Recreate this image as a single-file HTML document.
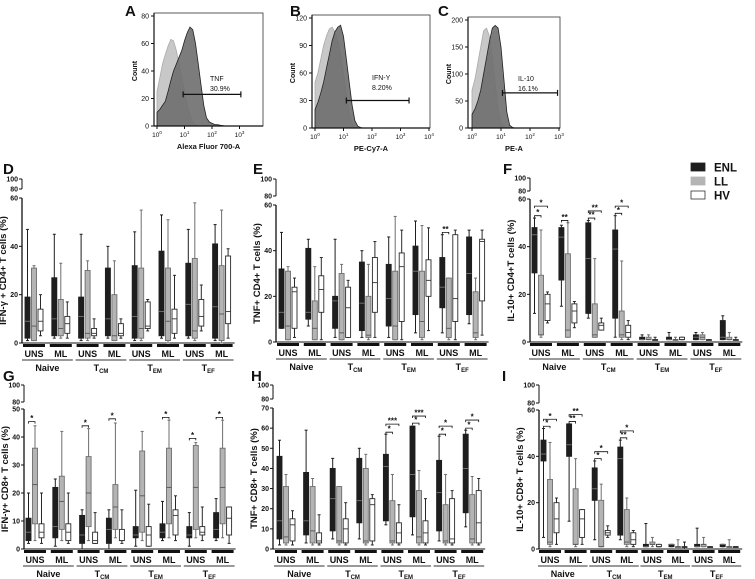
<!DOCTYPE html>
<html><head><meta charset="utf-8"><style>
html,body{margin:0;padding:0;background:#fff;}
svg{display:block;font-family:"Liberation Sans",Arial,sans-serif;}
</style></head><body>
<svg id="fig" width="755" height="579" viewBox="0 0 755 579" xmlns="http://www.w3.org/2000/svg"></svg>
<script>
// ---------- DATA ----------
const categories = ["UNS","ML","UNS","ML","UNS","ML","UNS","ML"];
const subsets = ["Naive","T_CM","T_EM","T_EF"];
const seriesNames = ["ENL","LL","HV"];
// each box: [min,q1,median,q3,max]
const dEnl=[[1,2,9,19,47],[2,3,10,27,45],[1,2,11,19,45],[2,3,10,31,40],[1,2,11,32,46],[2,3,13,38,53],[2,3,16,33,47],[1,2,15,41,49]];
const dLl =[[1,1,7,31,32],[2,3,6,18,33],[1,2,4,30,34],[1,1,3,20,34],[1,2,6,31,55],[0,1,9,31,51],[1,2,5,35,58],[0,1,12,32,55]];
const dHv =[[3,5,9,14,20],[2,4,8,11,17],[2,3,4,6,10],[2,3,4,8,10],[5,6,7,17,18],[2,4,10,14,28],[5,7,11,18,24],[2,8,13,36,39]];
const eEnl=[[6,6,13,32,48],[7,10,13,41,45],[2,6,18,20,45],[2,5,17,35,40],[2,7,19,34,46],[4,12,31,42,53],[4,15,24,37,47],[8,12,30,46,49]];
const eLl =[[1,1,7,31,33],[1,1,6,18,33],[1,1,4,30,34],[1,2,3,20,34],[1,1,7,31,55],[1,2,9,31,51],[1,2,6,28,28],[1,2,4,22,28]];
const eHv =[[2,6,22,24,28],[1,13,23,29,37],[2,2,15,24,27],[2,13,26,37,44],[1,9,33,39,49],[5,20,27,36,50],[1,9,19,47,49],[3,18,44,45,49]];
const fEnl=[[12,29,45,48,52],[15,26,44,48,49],[10,12,35,50,51],[2,10,39,47,53],[1,1,1,2,3],[1,1,1,2,4],[1,1,2,3,4],[1,1,2,9,11]];
const fLl =[[2,3,3,28,47],[2,2,5,37,50],[2,2,3,16,35],[1,2,3,13,34],[1,1,1,2,3],[1,1,1,1,2],[1,1,2,3,4],[1,1,1,2,4]];
const fHv =[[8,9,16,20,21],[6,8,13,16,17],[5,5,7,8,10],[1,2,4,7,9],[1,1,1,1,2],[1,1,1,2,2],[1,1,1,1,1],[1,1,1,1,2]];
const gEnl=[[2,3,6,11,20],[1,4,8,22,25],[0,2,5,12,14],[0,2,7,11,14],[1,4,5,8,21],[3,4,6,9,17],[1,4,5,8,13],[3,4,7,13,18]];
const gLl =[[3,9,23,36,44],[3,7,17,26,42],[3,8,20,33,43],[4,7,15,23,45],[3,6,19,35,42],[4,9,22,36,46],[4,7,22,37,38],[4,9,22,36,46]];
const gHv =[[2,4,6,9,20],[2,3,6,9,20],[2,2,3,6,13],[2,3,3,7,14],[1,1,5,8,16],[3,5,12,14,19],[3,5,6,8,15],[2,5,11,15,15]];
const hEnl=[[2,5,14,46,54],[3,7,14,38,59],[5,9,25,40,45],[5,13,24,45,50],[12,14,41,47,57],[7,16,37,61,61],[4,9,28,44,56],[11,18,40,57,59]];
const hLl =[[2,3,6,31,37],[2,3,9,31,35],[2,3,4,31,31],[2,3,4,40,47],[2,3,4,24,37],[2,3,6,29,39],[2,3,4,22,37],[2,3,5,27,36]];
const hHv =[[2,4,12,15,19],[2,3,4,8,17],[2,3,10,15,23],[2,4,22,25,27],[2,3,8,13,22],[2,3,8,14,25],[2,3,5,25,29],[2,3,13,29,35]];
const iEnl=[[5,38,41,47,52],[12,40,45,54,54],[4,21,26,35,38],[4,6,39,44,47],[1,1,1,2,11],[1,1,2,2,2],[1,1,1,2,9],[1,1,2,2,2]];
const iLl =[[1,2,3,30,46],[1,2,2,26,39],[1,1,1,21,28],[1,2,3,17,22],[1,2,2,3,5],[1,1,1,1,4],[1,1,2,2,5],[1,1,1,1,4]];
const iHv =[[2,7,13,20,22],[2,5,13,17,17],[5,6,7,8,10],[1,2,4,7,8],[1,1,1,2,2],[0,1,1,1,3],[1,1,1,1,1],[1,1,1,1,1]];
// significance: [group, fromSeries, toSeries, label, level]
const eSig=[[6,0,1,"**",48]];
const fSig=[[0,0,1,"*",53],[0,0,2,"*",57],[1,0,1,"**",51],[2,0,1,"**",52],[2,0,2,"**",55],[3,0,1,"*",54],[3,0,2,"*",57]];
const gSig=[[0,0,1,"*",45.5],[2,0,1,"*",44],[3,0,1,"*",46.5],[5,0,1,"*",47],[6,0,1,"*",39.5],[7,0,1,"*",47]];
const hSig=[[4,0,1,"*",58],[4,0,2,"***",62],[5,0,1,"*",62.5],[5,0,2,"***",66],[6,0,1,"*",57],[6,0,2,"*",61],[7,0,1,"*",60],[7,0,2,"*",64]];
const iSig=[[0,0,1,"*",53],[0,0,2,"*",56],[1,0,1,"**",55],[1,0,2,"**",58],[2,0,1,"*",39],[2,0,2,"*",42],[3,0,1,"**",48],[3,0,2,"*",51]];
// flow histograms: counts per 0.1 log-decade bin starting at 10^0
const aIso=[25,35,45,52,58,63,62,55,45,35,25,15,8,3,1,0];
const aStain=[10,12,15,18,25,33,40,45,50,55,62,68,72,70,60,45,30,15,6,3,2,1,1,0.5,0.3,0];
const bIso=[50,60,75,90,100,108,110,105,95,80,60,35,15,5,1,0];
const bStain=[20,28,38,50,65,80,95,105,110,112,100,75,50,25,8,2,0.5,0];
const cIso=[70,90,120,150,180,185,170,130,80,35,10,2,0];
const cStain=[25,35,50,70,100,130,160,185,190,185,150,90,30,5,1,0];

// ---------- DRAW ----------
const NS="http://www.w3.org/2000/svg";
const svg=document.getElementById("fig");
function mk(tag,attrs,parent){const e=document.createElementNS(NS,tag);for(const k in attrs)e.setAttribute(k,attrs[k]);(parent||svg).appendChild(e);return e;}
function txt(x,y,s,size,anchor,weight,parent){const t=mk("text",{x:x,y:y,"font-size":size,"text-anchor":anchor||"middle","font-weight":weight||"bold",fill:"#111"},parent);t.textContent=s;return t;}
function subLabel(x,y,name,parent){
  const t=mk("text",{x:x,y:y,"font-size":9,"text-anchor":"middle","font-weight":"bold",fill:"#111"},parent);
  if(name.indexOf("_")>0){const p=name.split("_");t.appendChild(document.createTextNode(p[0]));const s=mk("tspan",{"font-size":6,dy:2},t);s.textContent=p[1];}
  else t.textContent=name;
  return t;
}
const fills=["#1e1e1e","#b4b4b4","#ffffff"];
const strokes=["#1e1e1e","#6e6e6e","#2a2a2a"];
const medCol=["#777","#555","#333"];

function boxPanel(cfg){
  const g=mk("g",{});
  
  
  const ys=v=>cfg.y0-(v/cfg.ymax)*(cfg.y0-cfg.yTop);
  const gx=i=>cfg.gx0+i*cfg.gdx;
  const off=[0,6.5,13], bw=5;
  const L=txt(cfg.lx,cfg.ly,cfg.letter,15,"start","bold",g);
  
  
  mk("line",{x1:cfg.ax,y1:cfg.y100,x2:cfg.ax,y2:cfg.y80,stroke:"#111","stroke-width":1},g);
  mk("line",{x1:cfg.ax,y1:cfg.yTop,x2:cfg.ax,y2:cfg.y0,stroke:"#111","stroke-width":1.3},g);
  [[100,cfg.y100],[80,cfg.y80]].forEach(p=>{mk("line",{x1:cfg.ax-3,y1:p[1],x2:cfg.ax,y2:p[1],stroke:"#111"},g);txt(cfg.ax-4,p[1]+2.5,String(p[0]),7,"end","bold",g);});
  cfg.ticks.forEach(v=>{const y=ys(v);mk("line",{x1:cfg.ax-3,y1:y,x2:cfg.ax,y2:y,stroke:"#111"},g);txt(cfg.ax-4,y+2.5,String(v),7,"end","bold",g);});
  const yt=txt(0,0,cfg.ytitle,9.5,"middle","bold",g);
  yt.setAttribute("transform",`translate(${cfg.ax-16},${(cfg.yTop+cfg.y0)/2}) rotate(-90)`);
  
  
  mk("line",{x1:cfg.ax,y1:cfg.y0,x2:gx(7)+22,y2:cfg.y0,stroke:"#111","stroke-width":1},g);
  const series=[cfg.enl,cfg.ll,cfg.hv];
  for(let i=0;i<8;i++){
    const x0=gx(i);
    mk("rect",{x:x0-2,y:cfg.y0+1,width:bw+off[2]+4,height:3,fill:"#111"},g);
    const cl=txt(x0+9,cfg.y0+14,categories[i],9,"middle","bold",g);
    
    
    for(let s=0;s<3;s++){
      const d=series[s][i];const x=x0+off[s];const cx=x+bw/2;
      const b=mk("g",{},g);
      
      
      mk("line",{x1:cx,y1:ys(d[0]),x2:cx,y2:ys(d[4]),stroke:strokes[s],"stroke-width":1},b);
      mk("line",{x1:cx-1.5,y1:ys(d[4]),x2:cx+1.5,y2:ys(d[4]),stroke:strokes[s],"stroke-width":1},b);
      mk("line",{x1:cx-1.5,y1:ys(d[0]),x2:cx+1.5,y2:ys(d[0]),stroke:strokes[s],"stroke-width":1},b);
      mk("rect",{x:x,y:ys(d[3]),width:bw,height:Math.max(0.8,ys(d[1])-ys(d[3])),fill:fills[s],stroke:strokes[s],"stroke-width":0.9},b);
      mk("line",{x1:x,y1:ys(d[2]),x2:x+bw,y2:ys(d[2]),stroke:medCol[s],"stroke-width":0.9},b);
    }
  }
  for(let k=0;k<4;k++){
    const xa=gx(2*k)-3, xb=gx(2*k+1)+off[2]+bw+3;
    mk("line",{x1:xa,y1:cfg.y0+17,x2:xb,y2:cfg.y0+17,stroke:"#333","stroke-width":1},g);
    const sl=subLabel((xa+xb)/2,cfg.y0+28,subsets[k],g);
    
    
  }
  (cfg.sig||[]).forEach(sg=>{
    const x0=gx(sg[0]);const xa=x0+off[sg[1]]+bw/2, xb=x0+off[sg[2]]+bw/2, y=ys(sg[4]);
    const p=mk("path",{d:`M${xa},${y+2}V${y}H${xb}V${y+2}`,fill:"none",stroke:"#111","stroke-width":0.8},g);
    
    
    txt((xa+xb)/2,y-0.5,sg[3],8,"middle","bold",g);
  });
}
boxPanel({name:"panel-d",letter:"D",lx:3,ly:174,ax:22,y100:179,y80:189,yTop:198,y0:343,ymax:60,ticks:[0,20,40,60],gx0:25,gdx:26.8,ytitle:"IFN-γ + CD4+ T cells (%)",enl:dEnl,ll:dLl,hv:dHv});
boxPanel({name:"panel-e",letter:"E",lx:253,ly:174,ax:276,y100:179,y80:196,yTop:205,y0:342,ymax:60,ticks:[0,20,40,60],gx0:279,gdx:26.8,ytitle:"TNF+ CD4+ T cells (%)",enl:eEnl,ll:eLl,hv:eHv,sig:eSig});
boxPanel({name:"panel-f",letter:"F",lx:503,ly:174,ax:530,y100:178,y80:191,yTop:199,y0:342,ymax:60,ticks:[0,20,40,60],gx0:532,gdx:26.9,ytitle:"IL-10+ CD4+T cells (%)",enl:fEnl,ll:fLl,hv:fHv,sig:fSig});
boxPanel({name:"panel-g",letter:"G",lx:3,ly:381,ax:24,y100:385,y80:402,yTop:409,y0:549,ymax:50,ticks:[0,10,20,30,40,50],gx0:26,gdx:26.8,ytitle:"IFN-γ+ CD8+ T cells (%)",enl:gEnl,ll:gLl,hv:gHv,sig:gSig});
boxPanel({name:"panel-h",letter:"H",lx:251,ly:381,ax:273,y100:385,y80:399,yTop:408,y0:549,ymax:70,ticks:[0,10,20,30,40,50,60,70],gx0:277,gdx:26.6,ytitle:"TNF+ CD8+ T cells (%)",enl:hEnl,ll:hLl,hv:hHv,sig:hSig});
boxPanel({name:"panel-i",letter:"I",lx:502,ly:381,ax:539,y100:385,y80:403,yTop:410,y0:549,ymax:60,ticks:[0,20,40,60],gx0:541,gdx:25.6,ytitle:"IL-10+ CD8+ T cells (%)",enl:iEnl,ll:iLl,hv:iHv,sig:iSig});

// legend
const leg=mk("g",{});


seriesNames.forEach((n,i)=>{
  const y=163+i*14;
  const r=mk("rect",{x:691,y:y,width:14,height:8,fill:fills[i],stroke:i==2?"#333":fills[i],"stroke-width":0.8},leg);
  
  
  const t=txt(714,y+8.5,n,11.5,"start","bold",leg);
  
  
});

// flow histograms
function flow(cfg){
  const g=mk("g",{});
  
  
  const L=txt(cfg.lx,16,cfg.letter,15,"start","bold",g);
  
  
  const xs=l=>cfg.x0+l*cfg.dec;
  const ys=v=>cfg.yb-(v/cfg.ymax)*(cfg.yb-cfg.yt);
  function area(arr,fill,stroke,nm){
    let d=`M${xs(0)},${cfg.yb}`;
    arr.forEach((v,i)=>{d+=`L${xs(i*0.1).toFixed(1)},${ys(v).toFixed(1)}`;});
    d+=`L${xs((arr.length-1)*0.1)},${cfg.yb}Z`;
    const p=mk("path",{d:d,fill:fill,stroke:stroke,"stroke-width":0.8},g);
    
    
  }
  area(cfg.iso,"#c8c8c8","#aaa","isotype-histogram");
  area(cfg.stain,"rgba(110,110,110,0.9)","#222","stained-histogram");
  mk("rect",{x:cfg.ax,y:cfg.yt-3,width:cfg.right-cfg.ax,height:cfg.yb-cfg.yt+3,fill:"none",stroke:"#333","stroke-width":0.8},g);
  mk("line",{x1:cfg.ax,y1:cfg.yt-3,x2:cfg.ax,y2:cfg.yb,stroke:"#111","stroke-width":1.2},g);
  mk("line",{x1:cfg.ax,y1:cfg.yb,x2:cfg.right,y2:cfg.yb,stroke:"#111","stroke-width":1.2},g);
  cfg.ticks.forEach(v=>{const y=ys(v);mk("line",{x1:cfg.ax-3,y1:y,x2:cfg.ax,y2:y,stroke:"#111"},g);txt(cfg.ax-5,y+2.5,String(v),7,"end","normal",g);});
  for(let k=0;k<5;k++){const x=xs(k);if(x>cfg.right+2)continue;mk("line",{x1:x,y1:cfg.yb,x2:x,y2:cfg.yb+3,stroke:"#111"},g);
    const t=mk("text",{x:x,y:cfg.yb+11,"font-size":6.5,"text-anchor":"middle",fill:"#111"},g);t.appendChild(document.createTextNode("10"));const s=mk("tspan",{"font-size":4.5,dy:-3},t);s.textContent=String(k);}
  const yl=txt(0,0,"Count",7,"middle","bold",g);yl.setAttribute("transform",`translate(${cfg.ax-17},${(cfg.yt+cfg.yb)/2}) rotate(-90)`);
  
  
  const xl=txt((cfg.ax+cfg.right)/2,cfg.yb+23,cfg.xtitle,7.5,"middle","bold",g);
  
  
  const gy=ys(cfg.gateV), gxa=xs(cfg.gate[0]), gxb=xs(cfg.gate[1]);
  const gate=mk("path",{d:`M${gxa},${gy-3}V${gy+3}M${gxa},${gy}H${gxb}M${gxb},${gy-3}V${gy+3}`,stroke:"#111","stroke-width":1.2,fill:"none"},g);
  
  
  txt(cfg.tx,cfg.ty,cfg.gname,7,"start","normal",g);
  txt(cfg.tx,cfg.ty+10,cfg.gpct,7,"start","normal",g);
}
flow({name:"panel-a",letter:"A",lx:125,ax:154,right:263,x0:157,dec:27.5,yt:16,yb:126,ymax:80,ticks:[0,20,40,60,80],iso:aIso,stain:aStain,xtitle:"Alexa Fluor 700-A",gate:[0.95,3.05],gateV:23,tx:210,ty:81,gname:"TNF",gpct:"30.9%"});
flow({name:"panel-b",letter:"B",lx:290,ax:312,right:430,x0:315,dec:28.5,yt:18,yb:128,ymax:120,ticks:[0,30,60,90,120],iso:bIso,stain:bStain,xtitle:"PE-Cy7-A",gate:[1.1,3.3],gateV:30,tx:372,ty:80,gname:"IFN-Y",gpct:"8.20%"});
flow({name:"panel-c",letter:"C",lx:438,ax:468,right:560,x0:472,dec:29,yt:20,yb:128,ymax:200,ticks:[0,50,100,150,200],iso:cIso,stain:cStain,xtitle:"PE-A",gate:[1.05,2.95],gateV:65,tx:518,ty:81,gname:"IL-10",gpct:"16.1%"});
</script>
</body></html>
